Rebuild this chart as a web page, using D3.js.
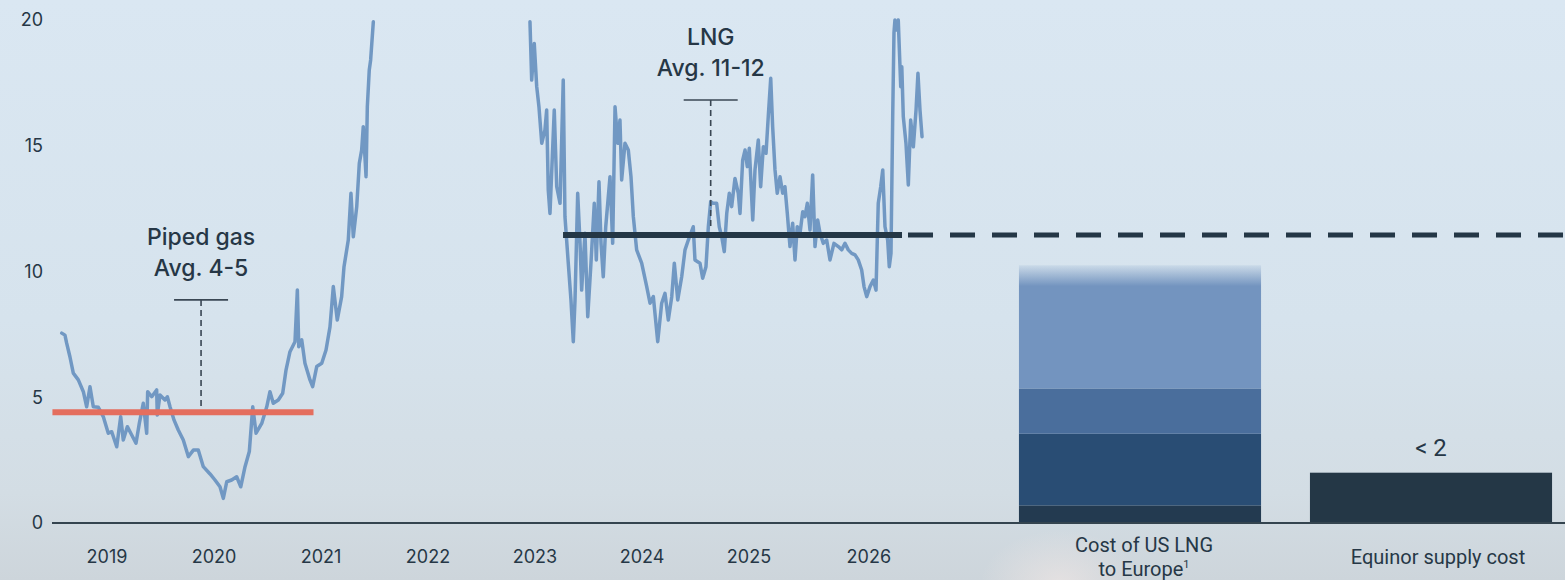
<!DOCTYPE html>
<html>
<head>
<meta charset="utf-8">
<script src="https://cdn.jsdelivr.net/npm/d3@7"></script>
<style>
  html, body { margin: 0; padding: 0; background: #d8e4ee; }
  svg { display: block; }
  text { font-family: Inter, "Noto Sans", sans-serif; fill: #263746; }
</style>
</head>
<body>
<svg id="chart" width="1565" height="580"></svg>
<script>
// ---- data -------------------------------------------------------------
const yTicks = [0, 5, 10, 15, 20];
const yearLabels = ["2019", "2020", "2021", "2022", "2023", "2024", "2025", "2026"];
const yearLabelPos = [2019, 2020, 2021, 2022, 2023, 2024, 2025, 2026.12];

// [decimal year, price]
const pipedGas = [
  [2018.577,7.55],[2018.607,7.47],[2018.623,7.15],[2018.654,6.6],[2018.685,5.96],[2018.732,5.69],
  [2018.779,5.22],[2018.810,4.62],[2018.841,5.42],[2018.872,4.62],[2018.919,4.6],[2018.965,4.23],
  [2019.012,3.57],[2019.044,3.63],[2019.091,3.03],[2019.128,4.23],[2019.152,3.3],[2019.190,3.83],
  [2019.231,3.5],[2019.271,3.17],[2019.302,3.96],[2019.339,4.76],[2019.371,3.57],[2019.380,5.22],
  [2019.418,5.02],[2019.464,5.29],[2019.470,4.29],[2019.495,5.09],[2019.542,4.89],[2019.564,5.02],
  [2019.589,4.62],[2019.626,4.1],[2019.666,3.7],[2019.713,3.3],[2019.760,2.64],[2019.807,2.9],
  [2019.853,2.9],[2019.900,2.24],[2019.963,1.95],[2020.009,1.71],[2020.056,1.44],[2020.087,0.98],
  [2020.119,1.64],[2020.165,1.71],[2020.212,1.84],[2020.250,1.44],[2020.290,2.24],[2020.330,2.84],
  [2020.362,4.62],[2020.393,3.57],[2020.446,3.96],[2020.493,4.62],[2020.523,5.22],[2020.554,4.76],
  [2020.601,4.89],[2020.642,5.16],[2020.673,6.08],[2020.710,6.81],[2020.757,7.21],[2020.779,9.26],
  [2020.792,7.01],[2020.820,7.28],[2020.850,6.35],[2020.897,5.69],[2020.922,5.42],[2020.960,6.22],
  [2021.007,6.35],[2021.047,6.88],[2021.084,7.8],[2021.115,9.4],[2021.152,8.07],[2021.193,9.0],
  [2021.215,10.19],[2021.255,11.25],[2021.280,13.11],[2021.302,11.38],[2021.334,12.58],[2021.358,14.3],
  [2021.380,14.83],[2021.395,15.76],[2021.421,13.77],[2021.433,16.55],[2021.451,18.01],[2021.464,18.41],
  [2021.489,19.93]
];

const lngPrice = [
  [2022.953,19.93],[2022.969,17.61],[2022.993,19.07],[2023.016,17.35],[2023.037,16.55],[2023.063,15.1],
  [2023.093,15.63],[2023.109,16.42],[2023.124,13.24],[2023.140,12.31],[2023.162,14.57],[2023.180,16.42],
  [2023.203,13.37],[2023.234,12.71],[2023.264,17.61],[2023.280,12.18],[2023.311,10.33],[2023.336,8.87],
  [2023.358,7.21],[2023.374,8.87],[2023.399,13.11],[2023.421,11.12],[2023.436,9.26],[2023.467,11.52],
  [2023.493,8.2],[2023.523,10.33],[2023.554,12.71],[2023.573,10.46],[2023.598,13.57],[2023.617,11.12],
  [2023.638,9.79],[2023.661,11.78],[2023.701,13.77],[2023.726,11.12],[2023.748,16.55],[2023.773,15.1],
  [2023.794,16.02],[2023.810,13.64],[2023.841,15.1],[2023.872,14.83],[2023.897,13.77],[2023.919,12.18],
  [2023.950,10.86],[2023.997,10.33],[2024.044,9.4],[2024.075,8.74],[2024.106,9.0],[2024.147,7.21],
  [2024.184,8.74],[2024.215,9.13],[2024.246,8.07],[2024.278,9.0],[2024.302,10.33],[2024.334,8.87],
  [2024.371,9.79],[2024.402,10.86],[2024.433,11.25],[2024.479,11.78],[2024.495,10.46],[2024.542,10.33],
  [2024.567,9.73],[2024.598,10.19],[2024.620,11.78],[2024.642,12.78],[2024.666,12.71],[2024.698,12.71],
  [2024.722,11.78],[2024.745,11.38],[2024.769,10.79],[2024.792,12.31],[2024.816,13.11],[2024.838,12.58],
  [2024.869,13.7],[2024.900,13.11],[2024.916,12.31],[2024.941,14.43],[2024.963,14.83],[2024.984,14.17],
  [2025.003,14.9],[2025.035,12.05],[2025.056,14.04],[2025.087,15.23],[2025.109,13.37],[2025.134,14.96],
  [2025.159,14.7],[2025.180,16.16],[2025.203,17.68],[2025.221,15.76],[2025.243,14.04],[2025.264,13.11],
  [2025.290,13.77],[2025.315,13.11],[2025.336,13.37],[2025.358,12.31],[2025.383,10.99],[2025.408,11.92],
  [2025.430,10.46],[2025.451,11.78],[2025.477,11.52],[2025.502,12.38],[2025.523,12.18],[2025.545,12.71],
  [2025.570,11.65],[2025.595,13.84],[2025.617,10.99],[2025.642,12.05],[2025.664,11.52],[2025.694,11.12],
  [2025.726,11.25],[2025.757,10.46],[2025.794,11.12],[2025.835,10.99],[2025.866,10.86],[2025.897,11.12],
  [2025.928,10.86],[2025.960,10.72],[2025.991,10.66],[2026.021,10.46],[2026.053,10.06],[2026.075,9.4],
  [2026.100,9.0],[2026.131,9.4],[2026.162,9.66],[2026.187,9.26],[2026.208,12.71],[2026.231,13.37],
  [2026.250,14.04],[2026.271,11.78],[2026.296,11.25],[2026.311,10.19],[2026.327,10.72],[2026.343,16.16],
  [2026.355,19.5],[2026.364,20],[2026.380,19.6],[2026.395,20],[2026.418,17.35],[2026.428,18.14],
  [2026.442,16.16],[2026.467,15.1],[2026.489,13.44],[2026.511,16.02],[2026.536,14.96],[2026.561,16.42],
  [2026.579,17.88],[2026.598,16.42],[2026.617,15.36]
];

// average levels: [start year, end year, value]
const pipedAvg = [2018.49, 2020.93, 4.4];
const lngAvg = [2023.262, 2026.43, 11.45];

// callouts over each average
const annotations = [
  { lines: ["Piped gas", "Avg. 4-5"], year: 2019.879, top: 8.87, bottom: 4.63 },
  { lines: ["LNG", "Avg. 11-12"], year: 2024.642, top: 16.82, bottom: 11.72 }
];

// cost comparison bars
const costCategories = ["Cost of US LNG to Europe", "Equinor supply cost"];
const lngCostParts = [0.7, 2.85, 1.8, 4.9];
const equinorCost = 2;
const equinorLabel = "< 2";

// ---- layout -----------------------------------------------------------
const svg = d3.select("#chart");
const W = 1565, H = 580;
const partColors = ["#233a50", "#294d74", "#4a6e9c", "#7394bf"];
const dark = "#243746";

const y = d3.scaleLinear().domain([0, 20]).range([523, 20]);
const x = d3.scaleLinear().domain([2019, 2026]).range([107, 856]);
const xb = d3.scaleBand().domain(costCategories).range([994.5, 1576.5])
  .paddingInner(0.168).paddingOuter(0.084);

// ---- background -------------------------------------------------------
const defs = svg.append("defs");
const bg = defs.append("linearGradient").attr("id", "bg").attr("x1", 0).attr("y1", 0).attr("x2", 0).attr("y2", 1);
bg.append("stop").attr("offset", 0).attr("stop-color", "#dae7f2");
bg.append("stop").attr("offset", 0.55).attr("stop-color", "#d6e3ed");
bg.append("stop").attr("offset", 0.85).attr("stop-color", "#d3dde4");
bg.append("stop").attr("offset", 1).attr("stop-color", "#cdd5db");
svg.append("rect").attr("width", W).attr("height", H).attr("fill", "url(#bg)");

const glow = defs.append("radialGradient").attr("id", "glow");
glow.append("stop").attr("offset", 0).attr("stop-color", "#efe6e4").attr("stop-opacity", 0.7);
glow.append("stop").attr("offset", 1).attr("stop-color", "#efe6e4").attr("stop-opacity", 0);
svg.append("ellipse").attr("cx", 1060).attr("cy", 585).attr("rx", 80).attr("ry", 55).attr("fill", "url(#glow)");

const fade = defs.append("linearGradient").attr("id", "fadeTop").attr("x1", 0).attr("y1", 0).attr("x2", 0).attr("y2", 1);
fade.append("stop").attr("offset", 0).attr("stop-color", partColors[3]).attr("stop-opacity", 0.12);
fade.append("stop").attr("offset", 0.17).attr("stop-color", partColors[3]).attr("stop-opacity", 1);
fade.append("stop").attr("offset", 1).attr("stop-color", partColors[3]).attr("stop-opacity", 1);

// ---- y axis labels ----------------------------------------------------
svg.append("g").selectAll("text").data(yTicks).join("text")
  .attr("x", 43).attr("y", d => y(d)).attr("dy", "0.35em")
  .attr("text-anchor", "end").attr("font-size", 18).text(d => d);

// ---- cost bars --------------------------------------------------------
const ends = Array.from(d3.cumsum(lngCostParts));
const segs = lngCostParts.map((v, i) => ({ y0: ends[i] - v, y1: ends[i], i }));
svg.append("g").selectAll("rect").data(segs).join("rect")
  .attr("x", xb(costCategories[0])).attr("width", xb.bandwidth())
  .attr("y", d => y(d.y1)).attr("height", d => y(d.y0) - y(d.y1))
  .attr("fill", d => d.i === segs.length - 1 ? "url(#fadeTop)" : partColors[d.i]);

svg.append("rect")
  .attr("x", xb(costCategories[1])).attr("width", xb.bandwidth())
  .attr("y", y(equinorCost)).attr("height", y(0) - y(equinorCost))
  .attr("fill", dark);

const catFont = "'Liberation Sans Narrow', Roboto, sans-serif";
svg.append("text")
  .attr("x", xb(costCategories[1]) + xb.bandwidth() / 2).attr("y", y(equinorCost) - 17)
  .attr("text-anchor", "middle").attr("font-size", 24)
  .style("font-family", catFont)
  .text(equinorLabel);

// ---- baseline ---------------------------------------------------------
svg.append("line").attr("x1", 52).attr("x2", W).attr("y1", y(0)).attr("y2", y(0))
  .attr("stroke", "#34444f").attr("stroke-width", 2);

// ---- x labels ---------------------------------------------------------
svg.append("g").selectAll("text").data(yearLabels).join("text")
  .attr("x", (d, i) => x(yearLabelPos[i])).attr("y", 563)
  .attr("text-anchor", "middle").attr("font-size", 18).text(d => d);

const c0 = xb(costCategories[0]) + xb.bandwidth() / 2;
const c1 = xb(costCategories[1]) + xb.bandwidth() / 2;
svg.append("text").attr("x", c0 + 4).attr("y", 552).attr("text-anchor", "middle")
  .attr("font-size", 20).style("font-family", catFont).text("Cost of US LNG");
const t0b = svg.append("text").attr("x", c0 + 4).attr("y", 576).attr("text-anchor", "middle")
  .attr("font-size", 20).style("font-family", catFont);
t0b.append("tspan").text("to Europe");
t0b.append("tspan").attr("font-size", 11).attr("dy", "-0.7em").text("1");
svg.append("text").attr("x", c1 + 7).attr("y", 564).attr("text-anchor", "middle")
  .attr("font-size", 20).style("font-family", catFont).text("Equinor supply cost");

// ---- price lines ------------------------------------------------------
const line = d3.line().x(d => x(d[0])).y(d => y(d[1])).curve(d3.curveLinear);
[pipedGas, lngPrice].forEach(series => {
  svg.append("path").datum(series).attr("d", line)
    .attr("fill", "none").attr("stroke", "#7198c3").attr("stroke-width", 3.5)
    .attr("stroke-linejoin", "round").attr("stroke-linecap", "round");
});

// ---- average levels ---------------------------------------------------
svg.append("line")
  .attr("x1", x(pipedAvg[0])).attr("x2", x(pipedAvg[1]))
  .attr("y1", y(pipedAvg[2])).attr("y2", y(pipedAvg[2]))
  .attr("stroke", "#e46e5e").attr("stroke-width", 6);

svg.append("line")
  .attr("x1", x(lngAvg[0])).attr("x2", x(lngAvg[1]))
  .attr("y1", y(lngAvg[2])).attr("y2", y(lngAvg[2]))
  .attr("stroke", dark).attr("stroke-width", 6);

svg.append("line")
  .attr("x1", x(lngAvg[1]) + 6).attr("x2", W)
  .attr("y1", y(lngAvg[2])).attr("y2", y(lngAvg[2]))
  .attr("stroke", dark).attr("stroke-width", 5).attr("stroke-dasharray", "25 17");

// ---- annotations ------------------------------------------------------
annotations.forEach(a => {
  const ax = x(a.year);
  const g = svg.append("g");
  g.append("line").attr("x1", ax - 27).attr("x2", ax + 27)
    .attr("y1", y(a.top)).attr("y2", y(a.top))
    .attr("stroke", "#3a4754").attr("stroke-width", 1.6);
  g.append("line").attr("x1", ax).attr("x2", ax)
    .attr("y1", y(a.top)).attr("y2", y(a.bottom))
    .attr("stroke", "#3a4754").attr("stroke-width", 1.6).attr("stroke-dasharray", "6 4");
  a.lines.forEach((t, i) => {
    g.append("text").attr("x", ax).attr("y", y(a.top) - 24 - (a.lines.length - 1 - i) * 31)
      .attr("text-anchor", "middle").attr("font-size", 23).attr("font-weight", 500).text(t);
  });
});
</script>
</body>
</html>
